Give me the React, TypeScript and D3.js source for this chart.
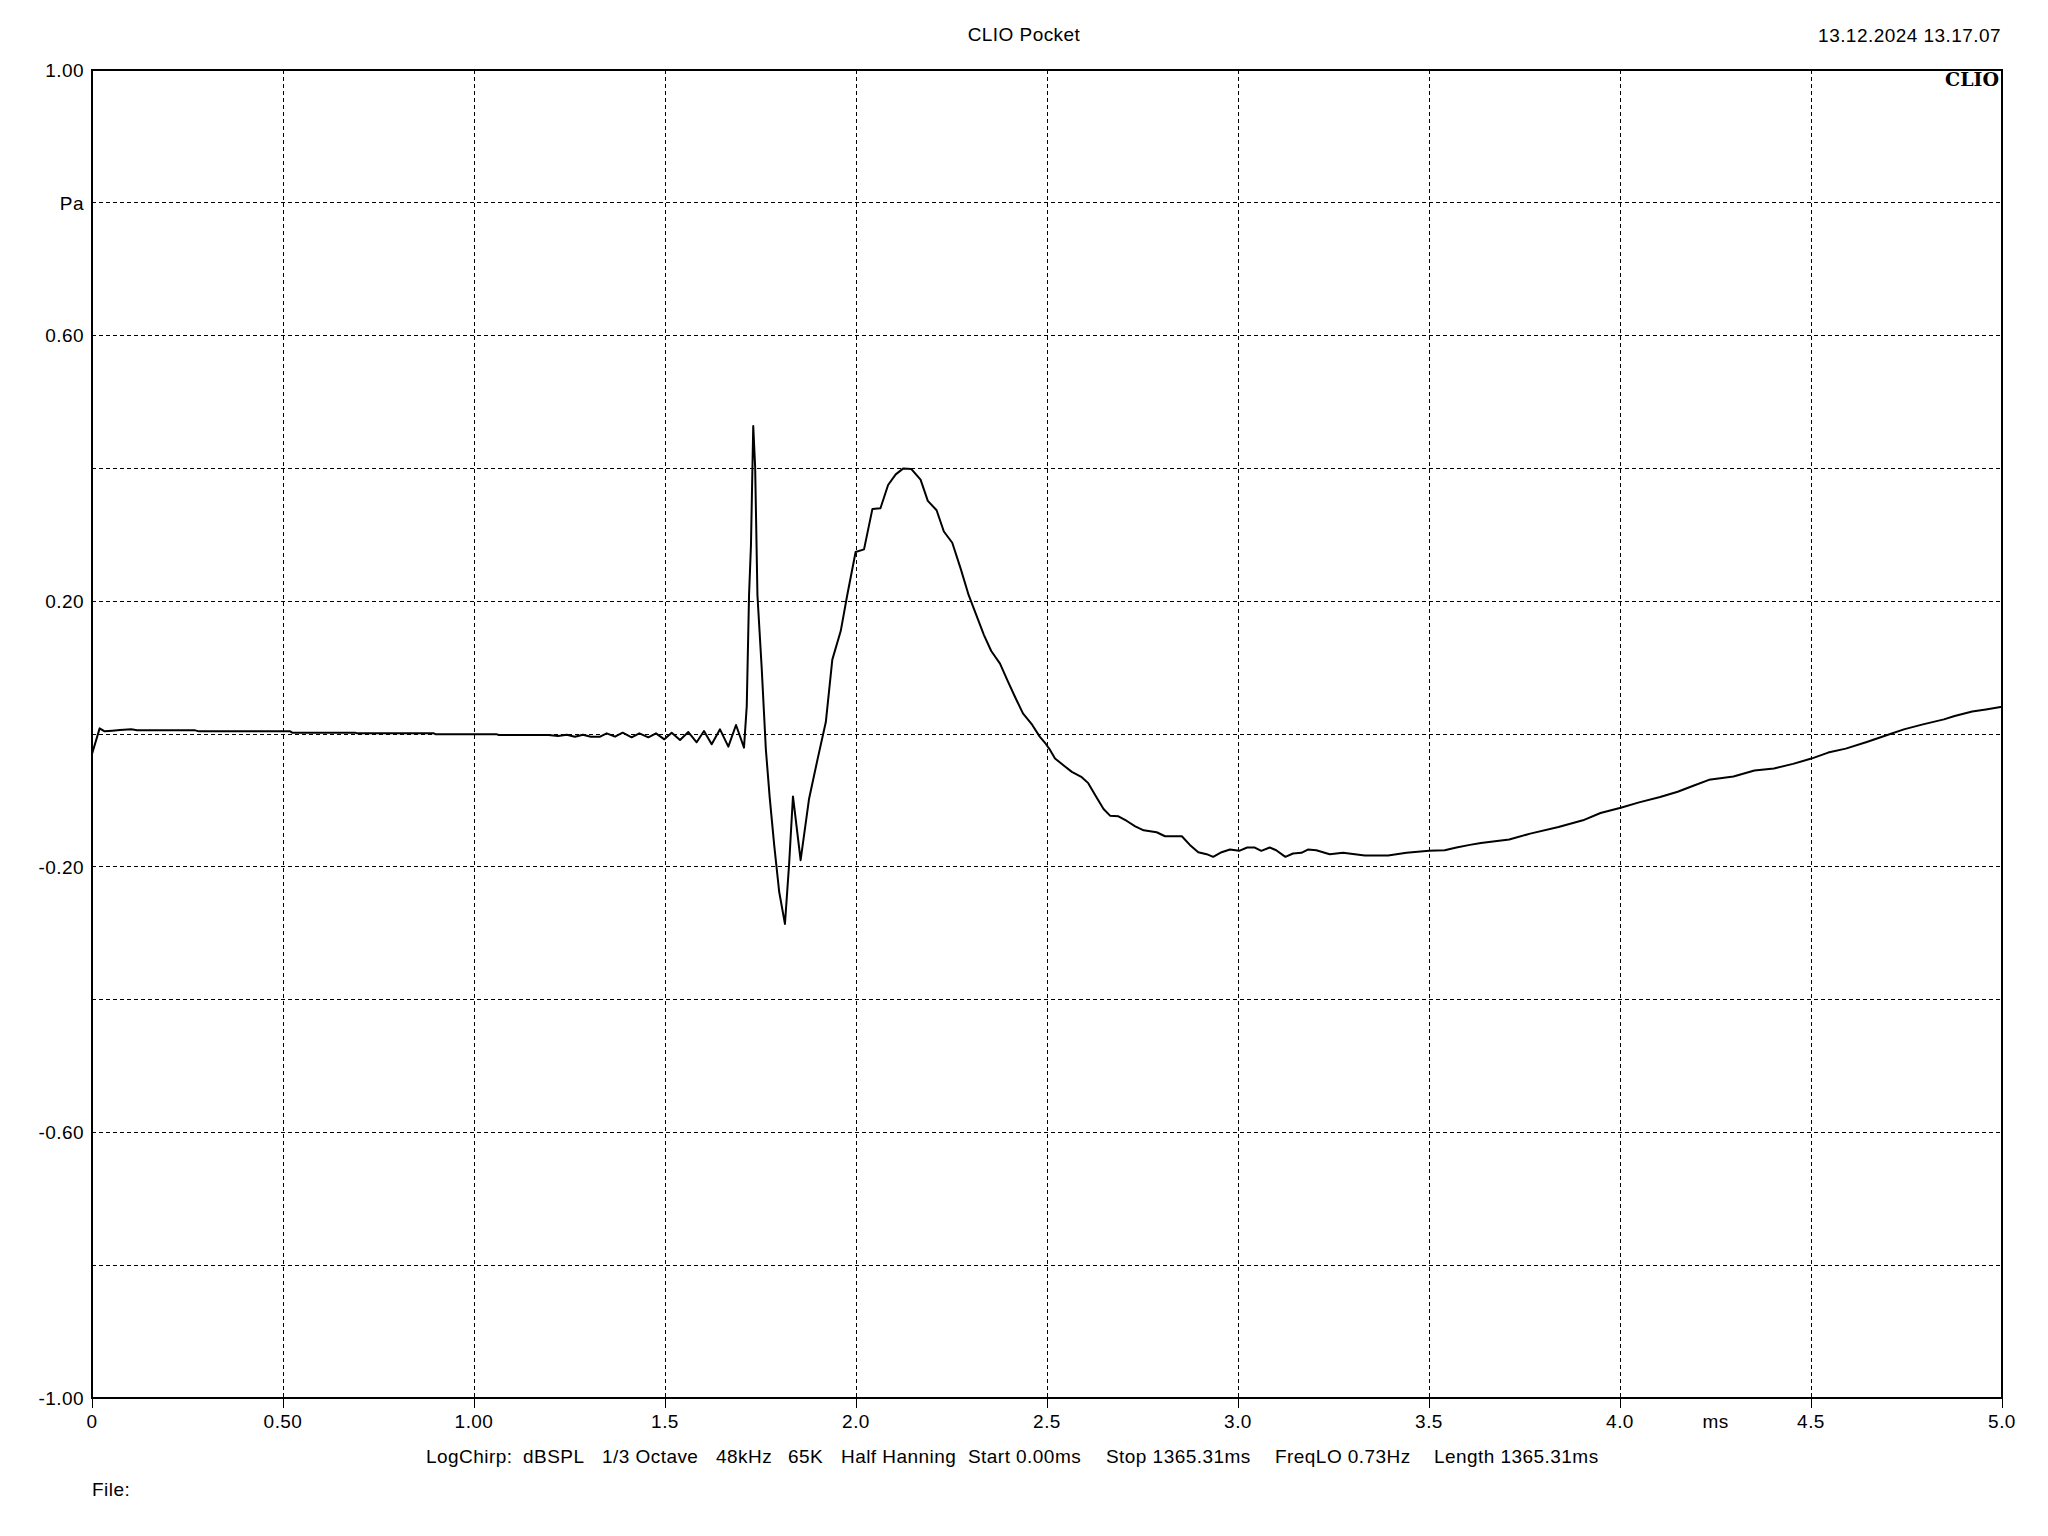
import React from "react";
import * as d3 from "d3";

// ---- Data (time in ms, pressure in Pa) ----
const onsetTimes = [0.0, 0.02, 0.033, 0.053, 0.073, 0.103, 0.118, 0.27, 0.28, 0.519, 0.524, 0.689, 0.694, 0.895, 0.9, 1.06, 1.065, 1.195];
const onsetValues = [-0.03, 0.0085, 0.004, 0.005, 0.006, 0.007, 0.0055, 0.0055, 0.004, 0.004, 0.002, 0.002, 0.001, 0.001, -0.0005, -0.0005, -0.0015, -0.0015];

const ringTimes = [1.22, 1.243, 1.264, 1.285, 1.306, 1.33, 1.3473, 1.3691, 1.3892, 1.4127, 1.4328, 1.4564, 1.4764, 1.4983, 1.5175, 1.5393, 1.5611, 1.5829, 1.6021, 1.6222, 1.644, 1.6658, 1.6859, 1.7068];
const ringValues = [-0.003, -0.001, -0.004, -0.001, -0.004, -0.004, 0.001, -0.004, 0.002, -0.005, 0.001, -0.005, 0.001, -0.008, 0.002, -0.009, 0.003, -0.0125, 0.0045, -0.0155, 0.007, -0.019, 0.0136, -0.0205];

const impulseTimes = [1.714, 1.72, 1.725, 1.731, 1.736, 1.742, 1.753, 1.764, 1.774, 1.786, 1.799, 1.814, 1.825, 1.835, 1.855, 1.877, 1.899, 1.921, 1.938, 1.96, 1.977, 1.999, 2.021, 2.043, 2.064, 2.084, 2.104, 2.124, 2.145, 2.169, 2.188, 2.211, 2.23, 2.252, 2.274, 2.295, 2.313, 2.335, 2.354, 2.377, 2.397, 2.417, 2.437, 2.461, 2.481];
const impulseValues = [0.042, 0.209, 0.284, 0.464, 0.402, 0.209, 0.101, -0.023, -0.095, -0.168, -0.238, -0.286, -0.195, -0.094, -0.19, -0.098, -0.039, 0.018, 0.112, 0.155, 0.209, 0.274, 0.278, 0.339, 0.34, 0.375, 0.391, 0.4, 0.399, 0.383, 0.351, 0.337, 0.305, 0.288, 0.249, 0.209, 0.182, 0.149, 0.125, 0.106, 0.08, 0.055, 0.031, 0.014, -0.004];

const troughTimes = [2.497, 2.508, 2.521, 2.543, 2.565, 2.591, 2.608, 2.626, 2.648, 2.665, 2.687, 2.709, 2.731, 2.753, 2.787, 2.809, 2.853, 2.874, 2.896, 2.918, 2.935, 2.957, 2.979, 3.003, 3.024, 3.044, 3.061, 3.083, 3.1, 3.124, 3.144, 3.166, 3.183, 3.205, 3.24, 3.275, 3.332, 3.393, 3.441, 3.5, 3.541, 3.572, 3.607];
const troughValues = [-0.015, -0.024, -0.037, -0.047, -0.057, -0.065, -0.074, -0.092, -0.113, -0.123, -0.124, -0.131, -0.139, -0.145, -0.148, -0.154, -0.154, -0.167, -0.178, -0.181, -0.185, -0.178, -0.174, -0.176, -0.171, -0.171, -0.176, -0.171, -0.175, -0.185, -0.18, -0.179, -0.174, -0.175, -0.181, -0.179, -0.183, -0.183, -0.179, -0.176, -0.175, -0.171, -0.167];

const tailTimes = [3.636, 3.71, 3.765, 3.839, 3.903, 3.949, 4.002, 4.05, 4.105, 4.151, 4.192, 4.233, 4.297, 4.352, 4.403, 4.453, 4.501, 4.545, 4.591, 4.646, 4.692, 4.743, 4.793, 4.848, 4.876, 4.922, 4.958, 5.0];
const tailValues = [-0.164, -0.159, -0.15, -0.14, -0.13, -0.119, -0.111, -0.103, -0.095, -0.087, -0.078, -0.069, -0.064, -0.055, -0.052, -0.045, -0.037, -0.028, -0.022, -0.012, -0.003, 0.007, 0.0145, 0.022, 0.027, 0.034, 0.037, 0.041];

const xTickValues = [0, 0.5, 1.0, 1.5, 2.0, 2.5, 3.0, 3.5, 4.0, 4.5, 5.0];
const xTickLabels = ["0", "0.50", "1.00", "1.5", "2.0", "2.5", "3.0", "3.5", "4.0", "4.5", "5.0"];
const yGridValues = [1.0, 0.8, 0.6, 0.4, 0.2, 0.0, -0.2, -0.4, -0.6, -0.8, -1.0];
const yTickLabels = ["1.00", "Pa", "0.60", "", "0.20", "", "-0.20", "", "-0.60", "", "-1.00"];

const titleText = "CLIO Pocket";
const dateText = "13.12.2024 13.17.07";
const logoText = "CLIO";
const xUnit = "ms";
const xUnitValue = 4.25;
const infoItems = ["LogChirp:", "dBSPL", "1/3 Octave", "48kHz", "65K", "Half Hanning", "Start 0.00ms", "Stop 1365.31ms", "FreqLO 0.73Hz", "Length 1365.31ms"];
const infoX = [426, 523, 602, 716, 788, 841, 968, 1106, 1275, 1434];
const fileText = "File:";

const W = 2048;
const H = 1536;
const L = 92, R = 2002, T = 70, B = 1398;
const FONT = "'Liberation Sans', Arial, sans-serif";
const LS = 0.45;

export default function App() {
  const x = d3.scaleLinear().domain([0, 5]).range([L, R]);
  const y = d3.scaleLinear().domain([-1, 1]).range([B, T]);

  const times = [...onsetTimes, ...ringTimes, ...impulseTimes, ...troughTimes, ...tailTimes];
  const values = [...onsetValues, ...ringValues, ...impulseValues, ...troughValues, ...tailValues];
  const pts: [number, number][] = times.map((t, i) => [t, values[i]]);
  const line = d3.line<[number, number]>().x((d) => x(d[0])).y((d) => y(d[1]));
  const path = line(pts) || "";

  return (
    <svg width={W} height={H} style={{ position: "absolute", left: 0, top: 0, background: "#fff" }} fontFamily={FONT}>
      <rect x={0} y={0} width={W} height={H} fill="#fff" />
      {/* grid */}
      {xTickValues.slice(1, -1).map((v, i) => (
        <line key={"gx" + i} x1={x(v)} x2={x(v)} y1={T} y2={B} stroke="#000" strokeWidth={1} strokeDasharray="4,3" shapeRendering="crispEdges" />
      ))}
      {yGridValues.slice(1, -1).map((v, i) => (
        <line key={"gy" + i} x1={L} x2={R} y1={y(v)} y2={y(v)} stroke="#000" strokeWidth={1} strokeDasharray="4,3" shapeRendering="crispEdges" />
      ))}
      {/* x ticks */}
      {xTickValues.map((v, i) => (
        <line key={"tx" + i} x1={x(v)} x2={x(v)} y1={B} y2={B + 10} stroke="#000" strokeWidth={1} shapeRendering="crispEdges" />
      ))}
      {/* frame */}
      <rect x={L} y={T} width={R - L} height={B - T} fill="none" stroke="#000" strokeWidth={2} />
      {/* curve */}
      <path d={path} fill="none" stroke="#000" strokeWidth={2} strokeLinejoin="round" />
      {/* y labels */}
      {yGridValues.map((v, i) =>
        yTickLabels[i] ? (
          <text key={"ly" + i} x={84} y={y(v) + 6.7} fontSize={19} letterSpacing={LS} textAnchor="end" fill="#000">
            {yTickLabels[i]}
          </text>
        ) : null
      )}
      {/* x labels */}
      {xTickValues.map((v, i) => (
        <text key={"lx" + i} x={x(v)} y={1428} fontSize={19} letterSpacing={LS} textAnchor="middle" fill="#000">
          {xTickLabels[i]}
        </text>
      ))}
      <text x={x(xUnitValue)} y={1428} fontSize={19} letterSpacing={LS} textAnchor="middle" fill="#000">{xUnit}</text>
      {/* title & date */}
      <text x={1024} y={41} fontSize={19} letterSpacing={LS} textAnchor="middle" fill="#000">{titleText}</text>
      <text x={2001} y={41.5} fontSize={19} letterSpacing={LS} textAnchor="end" fill="#000">{dateText}</text>
      <text x={1999} y={86} fontSize={19} fontWeight="bold" fontFamily="'DejaVu Serif', serif" textAnchor="end" fill="#000">{logoText}</text>
      {/* info line */}
      {infoItems.map((s, i) => (
        <text key={"info" + i} x={infoX[i]} y={1463} fontSize={19} letterSpacing={LS} fill="#000">{s}</text>
      ))}
      <text x={92} y={1496} fontSize={19} letterSpacing={LS} fill="#000">{fileText}</text>
    </svg>
  );
}
